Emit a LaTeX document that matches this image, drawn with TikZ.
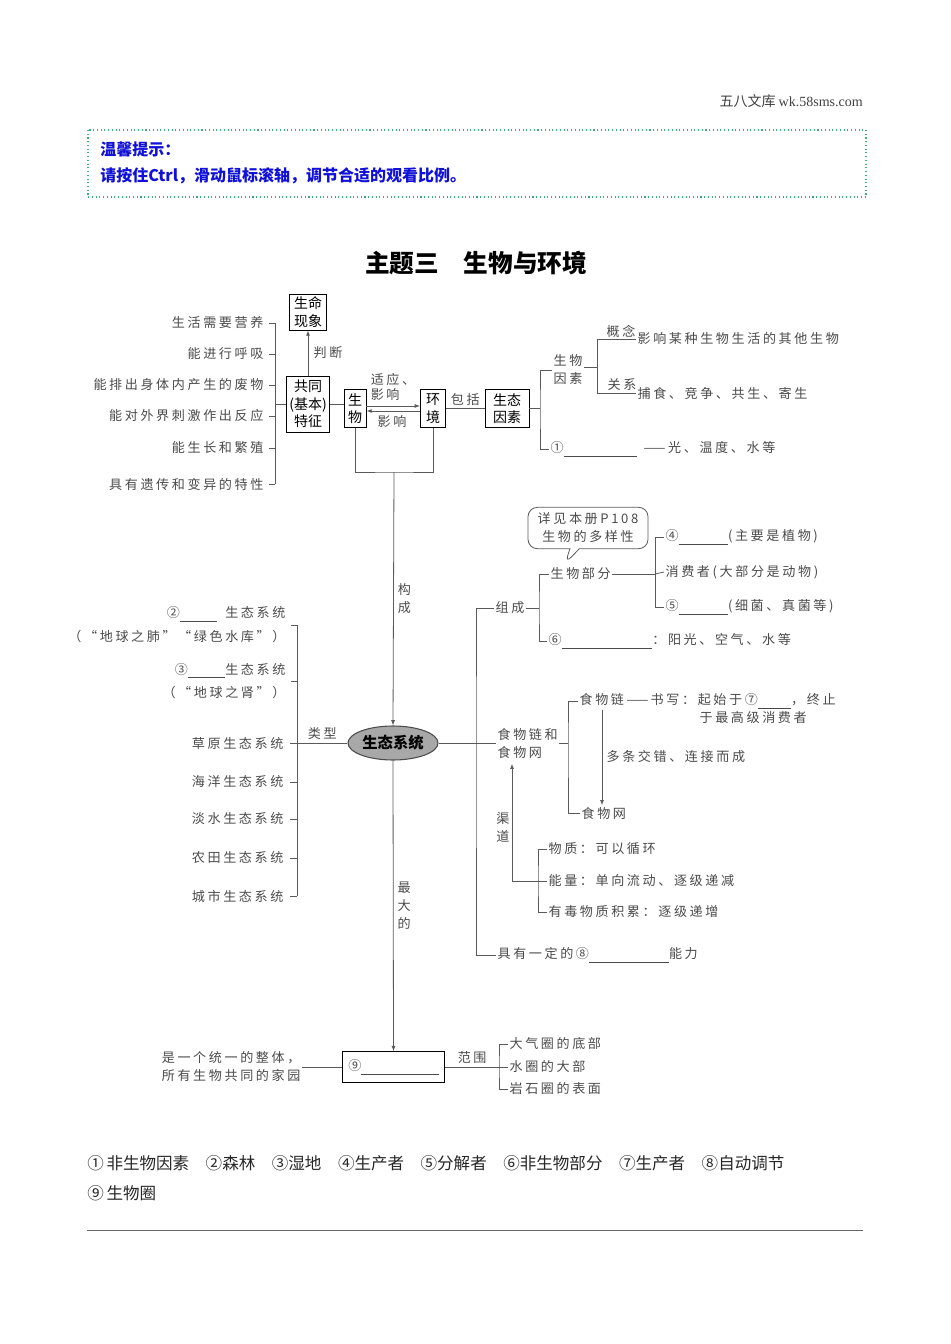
\documentclass[tikz,border=0pt]{standalone}
\usepackage{fontspec}
\setmainfont{Liberation Serif}
\newfontfamily\cjk{Noto Sans CJK SC}
\newfontfamily\cjkls[LetterSpace=20]{Noto Sans CJK SC}
\usetikzlibrary{shapes.geometric, shapes.callouts, arrows.meta, positioning, calc}

\definecolor{txtgray}{HTML}{4A4A4A}
\definecolor{linegray}{HTML}{5A5A5A}
\definecolor{ecogray}{HTML}{A8A8A8}
\definecolor{tipgreen}{HTML}{3CB07A}
\definecolor{tipblue}{HTML}{1010D8}

\newcommand{\itemf}{\fontsize{9.8}{13.5}\selectfont\cjkls}
\newcommand{\boxf}{\fontsize{10.5}{13}\selectfont\cjk}
\newcommand{\gap}[1]{\rule[-2.5pt]{#1}{0.45pt}}

\begin{document}
\begin{tikzpicture}[
    x=0.75pt, y=-0.75pt,
    box/.style={rectangle, draw, line width=0.6pt, inner sep=2pt, align=center, font=\boxf},
    item/.style={inner sep=1pt, text=txtgray, font=\itemf, align=left},
    link/.style={draw=linegray, line width=0.6pt},
    arrow/.style={link, -{Latex[length=4pt, width=3pt]}},
    tiptext/.style={inner sep=0pt, text=tipblue, font=\fontsize{12}{14}\selectfont\cjk\bfseries}
]
    \useasboundingbox (0,0) rectangle (950,1344);

    % Header and hint
    \node[anchor=east, inner sep=0pt, text=black!75, font=\fontsize{10.5}{12}\selectfont\cjk] (site) at (863,101) {五八文库 {\rmfamily wk.58sms.com}};
    \draw[tipgreen, dotted, line width=0.8pt] (88,130) rectangle (866,197);
    \node[tiptext, anchor=west] (tip1) at (100,149) {温馨提示：};
    \node[tiptext, anchor=west] (tip2) at (100,176) {请按住Ctrl，滑动鼠标滚轴，调节合适的观看比例。};

    % Title
    \node[font=\fontsize{18.5}{20}\selectfont\cjk\bfseries] (title) at (476,263) {主题三　生物与环境};

    % Organism and environment
    \node[box, minimum width=28pt, minimum height=27pt] (life) at (308,312) {生命\\现象};
    \node[box, minimum width=31.5pt, minimum height=42pt] (feat) at (308,404) {共同\\(基本)\\特征};
    \node[box, minimum width=16.5pt, minimum height=28pt] (bio) at (355,408.5) {生\\物};
    \node[box, minimum width=19pt, minimum height=28pt] (env) at (433,408.5) {环\\境};
    \node[box, minimum width=33pt, minimum height=28pt] (fact) at (507,408.5) {生态\\因素};

    \draw[arrow] (feat) -- (life) node[item, midway, right=3pt] {判断};
    \draw[link] (feat.east) -- (feat.east -| bio.west);
    \draw[arrow] ($(bio.east)+(0,-2.5)$) -- ($(env.west)+(0,-2.5)$);
    \draw[arrow] ($(env.west)+(0,2.5)$) -- ($(bio.east)+(0,2.5)$);
    \node[item, font=\fontsize{9.8}{11.5}\selectfont\cjkls] (adapt) at (393,387) {适应、\\影响};
    \node[item] (affect) at (392,422) {影响};
    \draw[link] (env) -- (fact) node[item, midway, above=1pt] {包括};

    % Basic features of living things
    \coordinate (tspine) at (275,404);
    \foreach \t/\y [count=\i] in {生活需要营养/323, 能进行呼吸/354, 能排出身体内产生的废物/385, 能对外界刺激作出反应/416, 能生长和繁殖/448, 具有遗传和变异的特性/484} {
        \node[item, anchor=east] (trait\i) at (265,\y) {\t};
        \draw[link] ([xshift=3pt]trait\i.east) -- (trait\i.east -| tspine);
    }
    \draw[link] (trait1.east -| tspine) -- (trait6.east -| tspine);
    \draw[link] (tspine) -- (feat.west);

    % Ecological factors
    \coordinate (fspine) at (540,408.5);
    \node[item] (biof) at (568,370) {生物\\因素};
    \node[item, anchor=west] (abio) at (549,449) {①\gap{55pt}\hspace{5pt}——光、温度、水等};
    \draw[link] (fact.east) -- (fspine);
    \draw[link] (biof.west) -| (fspine) |- (abio.west);
    \coordinate (rspine) at (597,367);
    \node[item, anchor=west] (cdef) at (636,339) {影响某种生物生活的其他生物};
    \node[item, anchor=west] (crel) at (636,393) {捕食、竞争、共生、寄生};
    \draw[link] (biof.east |- rspine) -- (rspine);
    \draw[link] (cdef.west) -| (rspine) |- (crel.west);
    \node[item] (clab) at (621,331) {概念};
    \node[item] (rlab) at (622,385) {关系};

    % Ecosystem
    \node[ellipse, draw=black!70, line width=0.8pt, fill=ecogray, minimum width=67.5pt, minimum height=25.5pt, inner sep=0pt, font=\fontsize{11.5}{13}\selectfont\cjk\bfseries] (eco) at (393,743) {生态系统};
    \coordinate (join) at (394,472);
    \draw[link] (bio.south) |- (join) -| (env.south);
    \draw[arrow] (join) -- (eco.north) node[item, midway, right=2pt, align=center] {构\\成};

    % Types
    \coordinate (tspine2) at (297,743);
    \node[item, anchor=east, align=right, font=\fontsize{9.8}{18}\selectfont\cjkls] (forest) at (287,625) {②\gap{28pt}\hspace{6pt}生态系统\\（“地球之肺”“绿色水库”）};
    \node[item, anchor=east, align=right, font=\fontsize{9.8}{17}\selectfont\cjkls] (wet) at (287,681) {③\gap{28pt}生态系统\\（“地球之肾”）};
    \draw[link] ([xshift=3pt]forest.east) -- (forest.east -| tspine2);
    \draw[link] ([xshift=3pt]wet.east) -- (wet.east -| tspine2);
    \foreach \n/\t/\y in {grass/草原生态系统/743, sea/海洋生态系统/782, fresh/淡水生态系统/819, farm/农田生态系统/858, city/城市生态系统/896} {
        \node[item, anchor=east] (\n) at (285,\y) {\t};
        \draw[link] ([xshift=4pt]\n.east) -- (\n.east -| tspine2);
    }
    \draw[link] (forest.east -| tspine2) -- (city.east -| tspine2);
    \draw[link] (tspine2) -- (eco.west) node[item, midway, above=1pt] {类型};

    % Composition
    \coordinate (cspine) at (476,743);
    \node[item, anchor=west] (comp) at (494,608) {组成};
    \node[item, anchor=west] (food) at (496,743) {食物链和\\食物网};
    \node[item, anchor=west] (stab) at (496,955) {具有一定的⑧\gap{60pt}能力};
    \draw[link] (eco.east) -- (food.west);
    \draw[link] (comp.west) -| (cspine) |- (stab.west);

    \coordinate (cbr) at (539,608);
    \node[item, anchor=west] (living) at (549,574) {生物部分};
    \node[item, anchor=west] (nonliv) at (547,641) {⑥\gap{68pt}：阳光、空气、水等};
    \draw[link] (comp.east) -- (cbr);
    \draw[link] (living.west) -| (cbr) |- (nonliv.west);

    \node[rectangle callout, rounded corners=7pt, draw=linegray, line width=0.6pt, text=txtgray, font=\fontsize{9.8}{13.5}\selectfont\cjkls, align=center, minimum width=90pt, minimum height=31pt, inner sep=0pt, callout pointer width=7pt, callout absolute pointer={([xshift=12pt, yshift=2pt]living.north west)}] (note) at (588,528) {详见本册P108\\生物的多样性};

    \coordinate (lbr) at (655,574);
    \node[item, anchor=west] (prod) at (664,537) {④\gap{37pt}(主要是植物)};
    \node[item, anchor=west] (cons) at (664,572) {消费者(大部分是动物)};
    \node[item, anchor=west] (deco) at (664,607) {⑤\gap{37pt}(细菌、真菌等)};
    \draw[link] (living.east) -- (lbr);
    \draw[link] (prod.west) -| (lbr) |- (deco.west);
    \draw[link] (lbr) -- (cons.west);

    % Food chain and web
    \coordinate (fbr) at (568,743);
    \node[item, anchor=west] (chain) at (578,701) {食物链——\,书写：起始于⑦\gap{25pt}，终止};
    \node[item, anchor=west] (chain2) at (698,718) {于最高级消费者};
    \node[item, anchor=west] (web) at (580,813) {食物网};
    \draw[link] (food.east) -- (fbr);
    \draw[link] (chain.west) -| (fbr) |- (web.west);
    \draw[arrow] ([xshift=18pt]chain.south west) -- ([xshift=18pt]chain.south west |- web.north);
    \node[item, anchor=west] (cross) at (605,757) {多条交错、连接而成};

    \coordinate (kbr) at (538,881);
    \node[item, anchor=west] (mat) at (547,849) {物质：可以循环};
    \node[item, anchor=west] (ener) at (547,881) {能量：单向流动、逐级递减};
    \node[item, anchor=west] (toxic) at (547,912) {有毒物质积累：逐级递增};
    \draw[link] (mat.west) -| (kbr) |- (toxic.west);
    \draw[link] (kbr) -- (ener.west);
    \draw[arrow, shorten >=3pt] (kbr) -| ([xshift=12pt]food.south west);
    \node[item, align=center] (chan) at (503,827) {渠\\道};

    % Biosphere
    \node[box, minimum width=77pt, minimum height=23pt, text=txtgray, font=\itemf] (bios) at (393.5,1067) {⑨\gap{58pt}};
    \draw[arrow] (eco.south) -- (bios.north) node[item, midway, right=2pt, align=center] {最\\大\\的};
    \node[item, anchor=east, font=\fontsize{9.8}{13.5}\selectfont\cjkls] (whole) at (302,1067) {是一个统一的整体，\\所有生物共同的家园};
    \draw[link] (whole.east) -- (bios.west);
    \coordinate (sbr) at (499,1067);
    \draw[link] (bios.east) -- (sbr) node[item, midway, above=1pt] {范围};
    \node[item, anchor=west] (air) at (508,1044) {大气圈的底部};
    \node[item, anchor=west] (water) at (508,1067) {水圈的大部};
    \node[item, anchor=west] (rock) at (508,1089) {岩石圈的表面};
    \draw[link] (air.west) -| (sbr) |- (rock.west);
    \draw[link] (sbr) -- (water.west);

    % Answers
    \node[anchor=west, inner sep=0pt, text=black!85, font=\fontsize{12.4}{14}\selectfont\cjk] (key1) at (87,1163) {①\,非生物因素\hspace{1em}②森林\hspace{1em}③湿地\hspace{1em}④生产者\hspace{1em}⑤分解者\hspace{1em}⑥非生物部分\hspace{1em}⑦生产者\hspace{1em}⑧自动调节};
    \node[anchor=west, inner sep=0pt, text=black!85, font=\fontsize{12.4}{14}\selectfont\cjk] (key2) at (87,1193) {⑨\,生物圈};
    \draw[black!60, line width=0.6pt] (87,1230) -- (863,1230);
\end{tikzpicture}
\end{document}
